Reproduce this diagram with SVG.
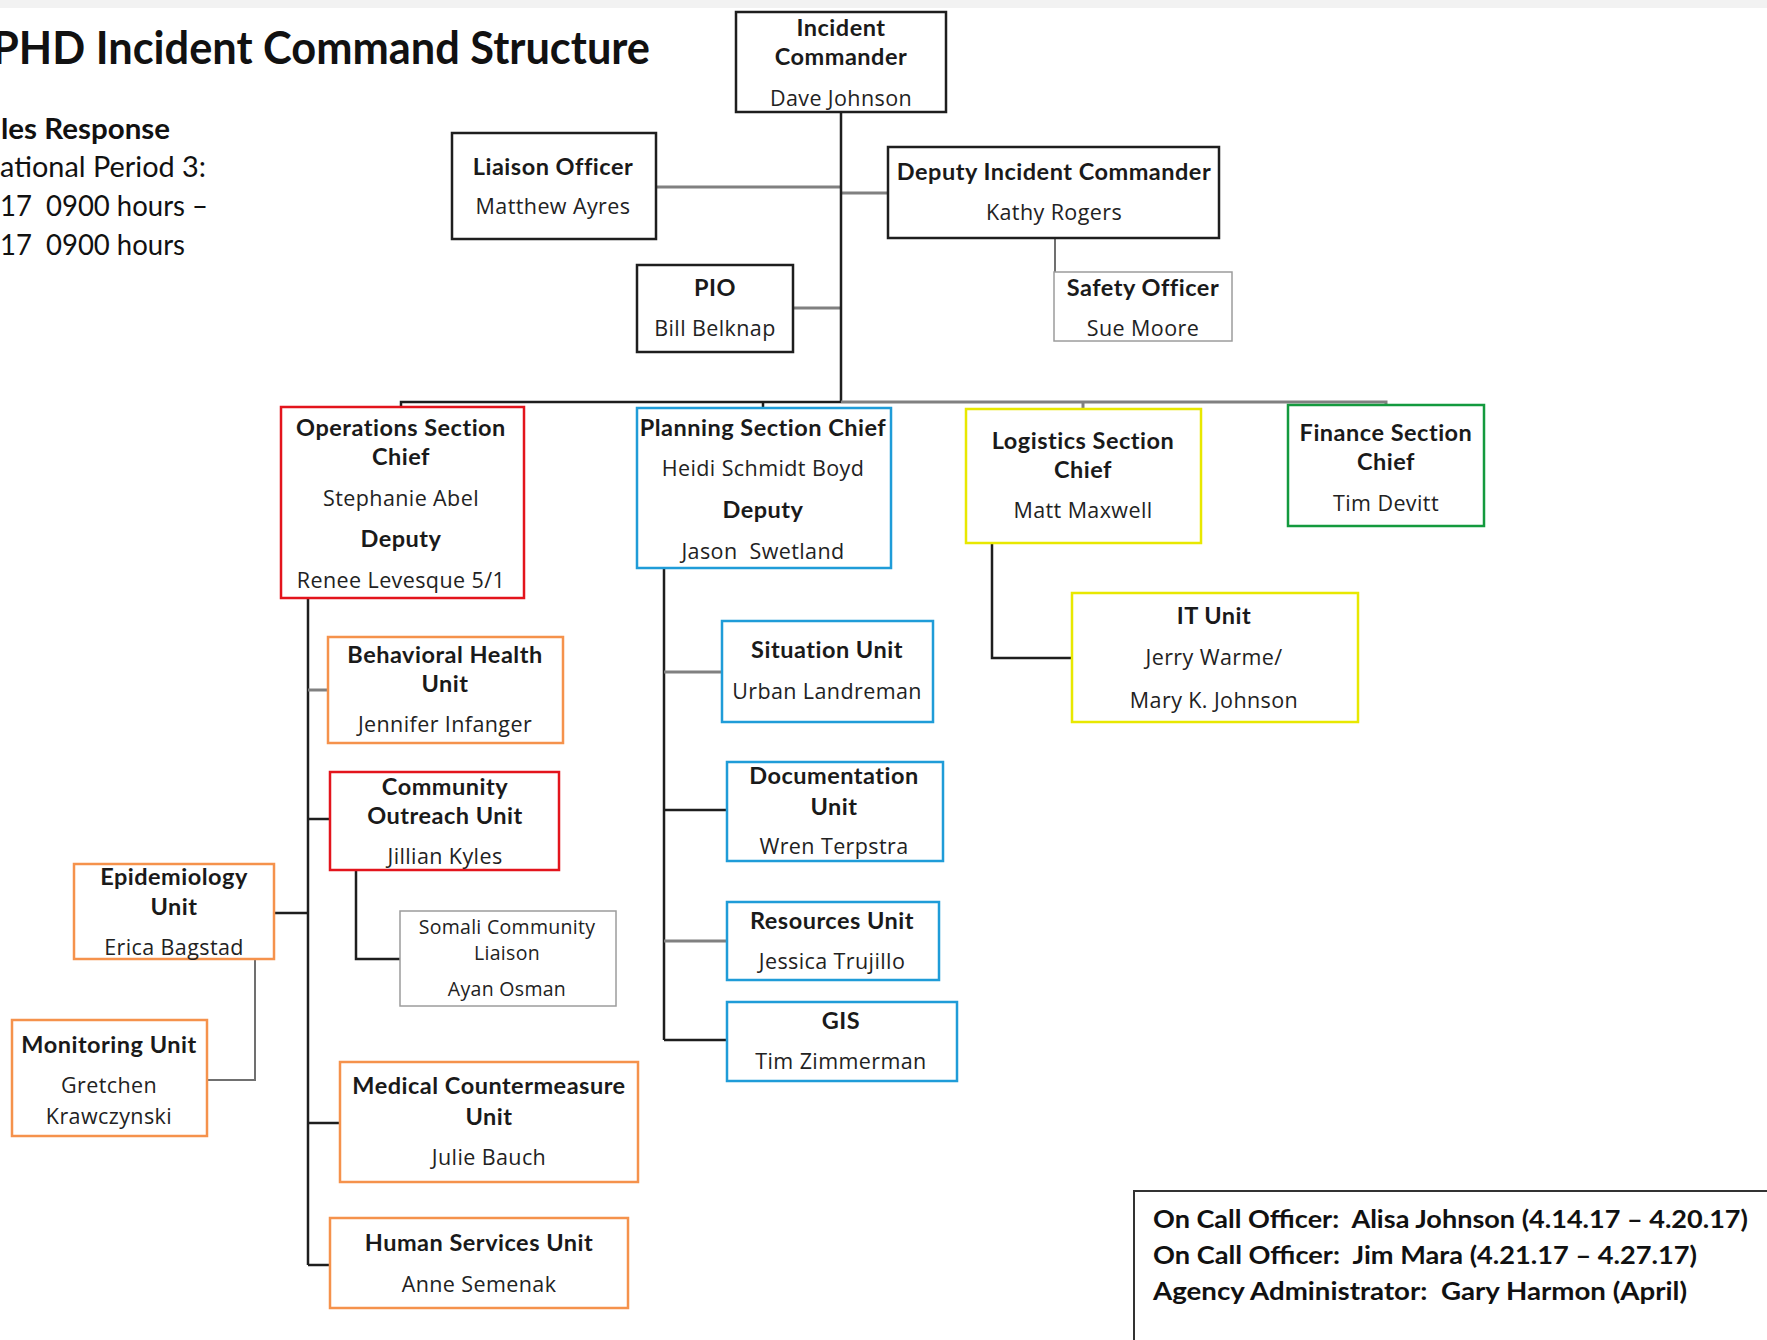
<svg xmlns="http://www.w3.org/2000/svg" width="1767" height="1340" viewBox="0 0 1767 1340">
  <style>
    .bg { fill: #ffffff; }
    .box { fill: #ffffff; stroke-width: 2.5; }
    .k { stroke: #1e1e1e; }
    .r { stroke: #e3141c; }
    .b { stroke: #1f9cd8; }
    .y { stroke: #e8e800; }
    .g { stroke: #139a3e; }
    .o { stroke: #f5924c; }
    .thin { stroke: #9c9c9c; stroke-width: 1.5; }
    .t { font-family: Lato, "Liberation Sans", sans-serif; font-weight: 700; font-size: 23.5px; letter-spacing: 0.5px; fill: #1a1a1a; text-anchor: middle; dominant-baseline: central; }
    .n { font-family: "Open Sans", "Liberation Sans", sans-serif; font-size: 21.5px; letter-spacing: 0.4px; fill: #222; text-anchor: middle; dominant-baseline: central; }
    .s { font-family: "Open Sans", "Liberation Sans", sans-serif; font-size: 19.5px; letter-spacing: 0.3px; fill: #222; text-anchor: middle; dominant-baseline: central; }
    .head { font-family: Lato, "Liberation Sans", sans-serif; fill: #111; }
    .ck { stroke: #1e1e1e; stroke-width: 2.5; fill: none; }
    .cg { stroke: #808080; stroke-width: 3; fill: none; }
    .cgt { stroke: #707070; stroke-width: 2; fill: none; }
  </style>

  <rect class="bg" x="0" y="0" width="1767" height="1340"/>
  <rect x="0" y="0" width="1767" height="8" fill="#f2f2f2"/>

  <!-- heading and operational period -->
  <g id="heading">
    <text class="head" x="-8" y="64" font-size="46" font-weight="700" textLength="658" lengthAdjust="spacingAndGlyphs">PHD Incident Command Structure</text>
    <text class="head" x="1" y="139" font-size="28" font-weight="700" textLength="169" lengthAdjust="spacingAndGlyphs">les Response</text>
    <text class="head" x="0" y="177" font-size="28" textLength="206" lengthAdjust="spacingAndGlyphs">ational Period 3:</text>
    <text class="head" x="0" y="216" font-size="28" textLength="208" lengthAdjust="spacingAndGlyphs" xml:space="preserve">17  0900 hours –</text>
    <text class="head" x="0" y="255" font-size="28" textLength="185" lengthAdjust="spacingAndGlyphs" xml:space="preserve">17  0900 hours</text>
  </g>

  <!-- connectors -->
  <g id="connectors">
    <!-- command staff -->
    <line class="cg" x1="656" y1="187" x2="841" y2="187"/>
    <line class="cg" x1="841" y1="193" x2="888" y2="193"/>
    <line class="cg" x1="793" y1="308" x2="841" y2="308"/>
    <line class="cgt" x1="1055" y1="238" x2="1055" y2="272"/>
    <line class="ck" x1="841" y1="112" x2="841" y2="403"/>
    <!-- general staff bus -->
    <polyline class="ck" points="401,407 401,402 841,402"/>
    <line class="ck" x1="763" y1="402" x2="763" y2="408"/>
    <polyline class="cg" points="841,402 1386,402 1386,405"/>
    <line class="cg" x1="1083" y1="402" x2="1083" y2="409"/>
    <!-- operations -->
    <line class="ck" x1="308" y1="598" x2="308" y2="1265"/>
    <line class="cg" x1="308" y1="690" x2="328" y2="690"/>
    <line class="ck" x1="308" y1="819" x2="330" y2="819"/>
    <line class="ck" x1="274" y1="913" x2="308" y2="913"/>
    <line class="ck" x1="308" y1="1123" x2="340" y2="1123"/>
    <line class="ck" x1="308" y1="1265" x2="330" y2="1265"/>
    <polyline class="ck" points="356,870 356,959 400,959"/>
    <polyline class="cgt" points="255,959 255,1080 207,1080"/>
    <!-- planning -->
    <line class="ck" x1="664" y1="568" x2="664" y2="1040"/>
    <line class="cg" x1="664" y1="672" x2="722" y2="672"/>
    <line class="ck" x1="664" y1="810" x2="727" y2="810"/>
    <line class="cg" x1="664" y1="941" x2="727" y2="941"/>
    <line class="ck" x1="664" y1="1040" x2="727" y2="1040"/>
    <!-- logistics -->
    <polyline class="ck" points="992,543 992,658 1072,658"/>
  </g>

  <g id="incident-commander">
    <rect class="box k" x="736" y="12" width="210" height="100"/>
    <text class="t" x="841" y="27">Incident</text>
    <text class="t" x="841" y="56">Commander</text>
    <text class="n" x="841" y="97">Dave Johnson</text>
  </g>
  <g id="liaison-officer">
    <rect class="box k" x="452" y="133" width="204" height="106"/>
    <text class="t" x="553" y="166">Liaison Officer</text>
    <text class="n" x="553" y="205">Matthew Ayres</text>
  </g>
  <g id="deputy-ic">
    <rect class="box k" x="888" y="147" width="331" height="91"/>
    <text class="t" x="1054" y="171">Deputy Incident Commander</text>
    <text class="n" x="1054" y="211">Kathy Rogers</text>
  </g>
  <g id="pio">
    <rect class="box k" x="637" y="265" width="156" height="87"/>
    <text class="t" x="715" y="287">PIO</text>
    <text class="n" x="715" y="327">Bill Belknap</text>
  </g>
  <g id="safety-officer">
    <rect class="box thin" x="1054" y="272" width="178" height="69"/>
    <text class="t" x="1143" y="287">Safety Officer</text>
    <text class="n" x="1143" y="327">Sue Moore</text>
  </g>

  <g id="operations">
    <rect class="box r" x="281" y="407" width="243" height="191"/>
    <text class="t" x="401" y="427">Operations Section</text>
    <text class="t" x="401" y="456">Chief</text>
    <text class="n" x="401" y="497">Stephanie Abel</text>
    <text class="t" x="401" y="538">Deputy</text>
    <text class="n" x="401" y="579">Renee Levesque 5/1</text>
  </g>
  <g id="planning">
    <rect class="box b" x="637" y="408" width="254" height="160"/>
    <text class="t" x="763" y="427">Planning Section Chief</text>
    <text class="n" x="763" y="467">Heidi Schmidt Boyd</text>
    <text class="t" x="763" y="509">Deputy</text>
    <text class="n" x="763" y="550" xml:space="preserve">Jason  Swetland</text>
  </g>
  <g id="logistics">
    <rect class="box y" x="966" y="409" width="235" height="134"/>
    <text class="t" x="1083" y="440">Logistics Section</text>
    <text class="t" x="1083" y="469">Chief</text>
    <text class="n" x="1083" y="509">Matt Maxwell</text>
  </g>
  <g id="finance">
    <rect class="box g" x="1288" y="405" width="196" height="121"/>
    <text class="t" x="1386" y="432">Finance Section</text>
    <text class="t" x="1386" y="461">Chief</text>
    <text class="n" x="1386" y="502">Tim Devitt</text>
  </g>
  <g id="it-unit">
    <rect class="box y" x="1072" y="593" width="286" height="129"/>
    <text class="t" x="1214" y="615">IT Unit</text>
    <text class="n" x="1214" y="656">Jerry Warme/</text>
    <text class="n" x="1214" y="699">Mary K. Johnson</text>
  </g>

  <g id="behavioral-health">
    <rect class="box o" x="328" y="637" width="235" height="106"/>
    <text class="t" x="445" y="654">Behavioral Health</text>
    <text class="t" x="445" y="683">Unit</text>
    <text class="n" x="445" y="723">Jennifer Infanger</text>
  </g>
  <g id="community-outreach">
    <rect class="box r" x="330" y="772" width="229" height="98"/>
    <text class="t" x="445" y="786">Community</text>
    <text class="t" x="445" y="815">Outreach Unit</text>
    <text class="n" x="445" y="855">Jillian Kyles</text>
  </g>
  <g id="somali-liaison">
    <rect class="box thin" x="400" y="911" width="216" height="95"/>
    <text class="s" x="507" y="926">Somali Community</text>
    <text class="s" x="507" y="952">Liaison</text>
    <text class="s" x="507" y="988">Ayan Osman</text>
  </g>
  <g id="epidemiology">
    <rect class="box o" x="74" y="864" width="200" height="95"/>
    <text class="t" x="174" y="876">Epidemiology</text>
    <text class="t" x="174" y="906">Unit</text>
    <text class="n" x="174" y="946">Erica Bagstad</text>
  </g>
  <g id="monitoring">
    <rect class="box o" x="12" y="1020" width="195" height="116"/>
    <text class="t" x="109" y="1044">Monitoring Unit</text>
    <text class="n" x="109" y="1084">Gretchen</text>
    <text class="n" x="109" y="1115">Krawczynski</text>
  </g>
  <g id="medical-countermeasure">
    <rect class="box o" x="340" y="1062" width="298" height="120"/>
    <text class="t" x="489" y="1085">Medical Countermeasure</text>
    <text class="t" x="489" y="1116">Unit</text>
    <text class="n" x="489" y="1156">Julie Bauch</text>
  </g>
  <g id="human-services">
    <rect class="box o" x="330" y="1218" width="298" height="90"/>
    <text class="t" x="479" y="1242">Human Services Unit</text>
    <text class="n" x="479" y="1283">Anne Semenak</text>
  </g>

  <g id="situation">
    <rect class="box b" x="722" y="621" width="211" height="101"/>
    <text class="t" x="827" y="649">Situation Unit</text>
    <text class="n" x="827" y="690">Urban Landreman</text>
  </g>
  <g id="documentation">
    <rect class="box b" x="727" y="762" width="216" height="99"/>
    <text class="t" x="834" y="775">Documentation</text>
    <text class="t" x="834" y="806">Unit</text>
    <text class="n" x="834" y="845">Wren Terpstra</text>
  </g>
  <g id="resources">
    <rect class="box b" x="727" y="902" width="212" height="78"/>
    <text class="t" x="832" y="920">Resources Unit</text>
    <text class="n" x="832" y="960">Jessica Trujillo</text>
  </g>
  <g id="gis">
    <rect class="box b" x="727" y="1002" width="230" height="79"/>
    <text class="t" x="841" y="1020">GIS</text>
    <text class="n" x="841" y="1060">Tim Zimmerman</text>
  </g>

  <g id="on-call">
    <rect x="1134" y="1191" width="640" height="160" fill="#fff" stroke="#333" stroke-width="2"/>
    <text class="head" x="1153" y="1228" font-size="25" font-weight="700" textLength="595" lengthAdjust="spacingAndGlyphs" xml:space="preserve">On Call Officer:  Alisa Johnson (4.14.17 – 4.20.17)</text>
    <text class="head" x="1153" y="1264" font-size="25" font-weight="700" textLength="544" lengthAdjust="spacingAndGlyphs" xml:space="preserve">On Call Officer:  Jim Mara (4.21.17 – 4.27.17)</text>
    <text class="head" x="1153" y="1300" font-size="25" font-weight="700" textLength="534" lengthAdjust="spacingAndGlyphs" xml:space="preserve">Agency Administrator:  Gary Harmon (April)</text>
  </g>
</svg>
